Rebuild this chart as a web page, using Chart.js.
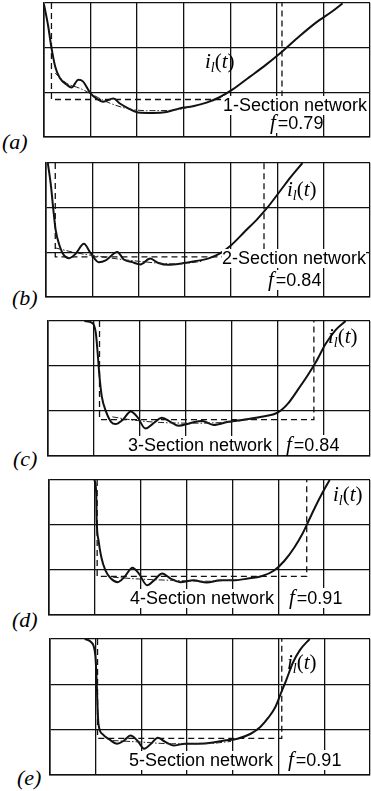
<!DOCTYPE html>
<html>
<head>
<meta charset="utf-8">
<script src="https://cdn.jsdelivr.net/npm/chart.js@4"></script>
<style>
  body { margin: 0; background: #fff; width: 371px; height: 791px; position: relative; overflow: hidden; }
  .tag { position: absolute; font-family: "Liberation Serif", "DejaVu Serif", serif; font-style: italic; font-size: 22px; line-height: 22px; }
  .net { position: absolute; font-family: "Liberation Sans", Arial, sans-serif; font-size: 18px; line-height: 19px; background: #fff; white-space: nowrap; color: #000; }
  .net i { font-family: "Liberation Serif", serif; font-size: 21px; padding-right: 2px; }
  .il { position: absolute; font-family: "Liberation Serif", serif; font-size: 21px; line-height: 21px; white-space: nowrap; color: #000; }
  .il sub { font-size: 14px; vertical-align: -4px; }
</style>
</head>
<body>
<script>
// panel data, x in grid divisions (0..7), y in grid divisions (0..3)
const panelLetters = ['a', 'b', 'c', 'd', 'e'];
const sectionCounts = [1, 2, 3, 4, 5];
const fValues = ['0.79', '0.84', '0.84', '0.91', '0.91'];

const aTime = [0, 0.09, 0.16, 0.24, 0.34, 0.49, 0.59, 0.74, 0.84, 0.99, 1.13, 1.27, 1.49, 1.63, 1.81, 2.02, 2.34, 2.63, 2.91, 3.2, 3.49, 3.77, 4.06, 4.41, 4.77, 5.09, 5.49, 5.84, 6.2, 6.41];
const aCurrent = [2.97, 2.48, 2.0, 1.58, 1.32, 1.17, 1.11, 1.28, 1.24, 0.99, 0.86, 0.79, 0.86, 0.75, 0.64, 0.55, 0.54, 0.56, 0.64, 0.69, 0.77, 0.89, 1.07, 1.34, 1.62, 1.89, 2.26, 2.56, 2.82, 2.99];
const aSmoothT = [0.24, 0.49, 0.77, 1.02, 1.34, 1.77, 2.2, 2.77, 3.2];
const aSmoothI = [1.43, 1.2, 1.09, 0.96, 0.79, 0.64, 0.59, 0.6, 0.69];
const aPulse = [0.16, 0.84, 5.11];

const bTime = [0.04, 0.11, 0.16, 0.21, 0.29, 0.39, 0.5, 0.64, 0.82, 0.96, 1.14, 1.29, 1.54, 1.68, 1.86, 2.04, 2.25, 2.43, 2.64, 2.93, 3.21, 3.5, 3.75, 4.0, 4.29, 4.57, 4.79, 5.07, 5.29, 5.54];
const bCurrent = [3.0, 2.46, 1.94, 1.49, 1.16, 0.93, 0.87, 0.97, 1.19, 0.99, 0.78, 0.82, 1.01, 0.84, 0.78, 0.73, 0.86, 0.76, 0.72, 0.75, 0.8, 0.86, 0.97, 1.16, 1.46, 1.75, 2.01, 2.39, 2.69, 3.0];
const bSmoothT = [0.2, 0.6, 1.2, 2.0, 2.8, 3.4];
const bSmoothI = [1.1, 1.0, 0.9, 0.8, 0.74, 0.8];
const bPulse = [0.2, 0.9, 4.71];

const cTime = [0.79, 0.97, 1.04, 1.08, 1.12, 1.17, 1.26, 1.37, 1.47, 1.62, 1.8, 1.94, 2.12, 2.27, 2.48, 2.66, 2.84, 3.09, 3.35, 3.6, 3.92, 4.28, 4.64, 5.0, 5.22, 5.43, 5.65, 5.83, 6.04, 6.26, 6.47];
const cCurrent = [3.0, 2.95, 2.73, 2.28, 1.76, 1.32, 0.99, 0.76, 0.71, 0.8, 0.99, 0.87, 0.61, 0.71, 0.85, 0.76, 0.67, 0.73, 0.78, 0.69, 0.76, 0.81, 0.87, 0.97, 1.17, 1.47, 1.8, 2.1, 2.5, 2.81, 3.0];
const cSmoothT = [1.4, 1.83, 2.55, 3.27, 3.99, 4.57];
const cSmoothI = [0.87, 0.8, 0.74, 0.73, 0.76, 0.84];
const cPulse = [1.12, 0.81, 5.78];

const dTime = [0.99, 1.03, 1.04, 1.08, 1.14, 1.23, 1.35, 1.5, 1.64, 1.82, 1.96, 2.14, 2.29, 2.47, 2.65, 2.86, 3.15, 3.44, 3.73, 4.01, 4.34, 4.63, 4.91, 5.13, 5.35, 5.53, 5.67, 5.81, 5.96, 6.12];
const dCurrent = [3.0, 2.71, 2.11, 1.66, 1.29, 0.99, 0.81, 0.73, 0.84, 1.05, 0.92, 0.66, 0.77, 0.92, 0.81, 0.73, 0.77, 0.72, 0.77, 0.77, 0.81, 0.86, 0.99, 1.2, 1.5, 1.81, 2.11, 2.41, 2.71, 3.0];
const dSmoothT = [1.39, 1.96, 2.68, 3.4, 4.12];
const dSmoothI = [0.84, 0.8, 0.77, 0.75, 0.78];
const dPulse = [1.05, 0.86, 5.62];

const eTime = [0.76, 0.9, 0.99, 1.02, 1.04, 1.06, 1.15, 1.29, 1.47, 1.62, 1.76, 1.91, 2.06, 2.21, 2.36, 2.52, 2.7, 2.95, 3.24, 3.53, 3.81, 4.1, 4.39, 4.6, 4.78, 4.93, 5.05, 5.17, 5.31, 5.47, 5.68];
const eCurrent = [3.0, 2.93, 2.65, 2.1, 1.5, 1.13, 0.9, 0.79, 0.69, 0.76, 0.87, 0.76, 0.58, 0.69, 0.82, 0.73, 0.65, 0.69, 0.69, 0.71, 0.76, 0.8, 0.91, 1.06, 1.27, 1.5, 1.8, 2.1, 2.47, 2.76, 3.0];
const eSmoothT = [1.37, 1.94, 2.66, 3.38, 3.96];
const eSmoothI = [0.76, 0.73, 0.69, 0.69, 0.74];
const ePulse = [1.04, 0.81, 5.07];

const series = [
  [aTime, aCurrent, aSmoothT, aSmoothI, aPulse],
  [bTime, bCurrent, bSmoothT, bSmoothI, bPulse],
  [cTime, cCurrent, cSmoothT, cSmoothI, cPulse],
  [dTime, dCurrent, dSmoothT, dSmoothI, dPulse],
  [eTime, eCurrent, eSmoothT, eSmoothI, ePulse]
];

// page layout: panel rectangles and where the texts sit
const layout = [
  { x: 44, y: 3, w: 326, h: 134, tag: [2, 131], il: [205, 51], net: [223, 96], f: [270, 113] },
  { x: 46, y: 163, w: 324, h: 134, tag: [12, 287], il: [287, 179], net: [222, 249], f: [268, 270] },
  { x: 48, y: 321, w: 322, h: 135, tag: [13, 448], il: [328, 326], net: [128, 436], f: [286, 435] },
  { x: 49, y: 480, w: 321, h: 135, tag: [12, 609], il: [333, 484], net: [130, 589], f: [289, 588] },
  { x: 50, y: 639, w: 320, h: 136, tag: [17, 767], il: [287, 652], net: [129, 751], f: [288, 750] }
];

function pts(xs, ys) {
  return xs.map((x, i) => ({ x: x, y: ys[i] }));
}

function addText(cls, pos, html) {
  const d = document.createElement('div');
  d.className = cls;
  d.style.left = pos[0] + 'px';
  d.style.top = pos[1] + 'px';
  d.innerHTML = html;
  document.body.appendChild(d);
}

function axis(max) {
  return {
    type: 'linear',
    min: 0,
    max: max,
    ticks: { display: false, stepSize: 1 },
    grid: { color: '#111', lineWidth: 1.3, drawTicks: false },
    border: { color: '#111', width: 1.6 }
  };
}

series.forEach((s, k) => {
  const L = layout[k];
  const cv = document.createElement('canvas');
  cv.width = L.w + 2;
  cv.height = L.h + 2;
  cv.style.position = 'absolute';
  cv.style.left = (L.x - 1) + 'px';
  cv.style.top = (L.y - 1) + 'px';
  document.body.appendChild(cv);

  const p = s[4];
  new Chart(cv, {
    type: 'scatter',
    data: {
      datasets: [
        {
          data: [{ x: p[0], y: 3 }, { x: p[0], y: p[1] }, { x: p[2], y: p[1] }, { x: p[2], y: 3 }],
          showLine: true, borderColor: '#111', borderWidth: 1.3, borderDash: [6, 4],
          pointRadius: 0, tension: 0
        },
        {
          data: pts(s[2], s[3]),
          showLine: true, borderColor: '#222', borderWidth: 1, borderDash: [6, 2, 1.5, 2],
          pointRadius: 0, cubicInterpolationMode: 'monotone'
        },
        {
          data: pts(s[0], s[1]),
          showLine: true, borderColor: '#111', borderWidth: 2,
          pointRadius: 0, cubicInterpolationMode: 'monotone'
        }
      ]
    },
    options: {
      responsive: false,
      animation: false,
      events: [],
      layout: { padding: 1 },
      plugins: { legend: { display: false }, tooltip: { enabled: false } },
      scales: { x: axis(7), y: axis(3) }
    }
  });

  addText('tag', L.tag, '(' + panelLetters[k] + ')');
  addText('il', L.il, '<i>i</i><sub><i>l</i></sub>(<i>t</i>)');
  addText('net', L.net, sectionCounts[k] + '-Section network');
  addText('net', L.f, '<i>f</i>=' + fValues[k]);
});
</script>
</body>
</html>
